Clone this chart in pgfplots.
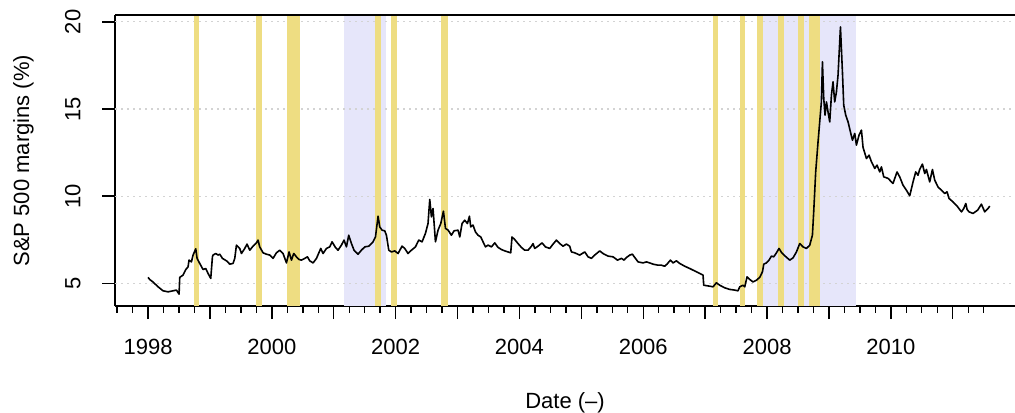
\documentclass[border=0pt]{standalone}
\usepackage{fontspec}
\setmainfont{Liberation Sans}
\usepackage{pgfplots}
\pgfplotsset{compat=1.18}
\definecolor{lgold}{RGB}{238,221,130}
\definecolor{lav}{RGB}{230,230,250}
\definecolor{gridgray}{RGB}{211,211,211}
\begin{document}
\begin{tikzpicture}
\begin{axis}[
  name=ax,
  at={(115bp,107bp)}, anchor=south west,
  scale only axis, width=900bp, height=290.8bp,
  xmin=1997.466, xmax=2012.006, ymin=3.698, ymax=20.384,
  axis x line*=bottom, axis y line*=left,
  axis line style={line width=1.4bp, -},
  tick align=outside,
  major tick length=13bp, minor tick length=6.5bp,
  every tick/.style={black, line width=1.4bp},
  xtick={1998,1999,2000,2001,2002,2003,2004,2005,2006,2007,2008,2009,2010,2011},
  xticklabels={1998,,2000,,2002,,2004,,2006,,2008,,2010,},
  minor xtick={1997.5,1997.75,1998.25,1998.5,1998.75,1999.25,1999.5,1999.75,2000.25,2000.5,2000.75,2001.25,2001.5,2001.75,2002.25,2002.5,2002.75,2003.25,2003.5,2003.75,2004.25,2004.5,2004.75,2005.25,2005.5,2005.75,2006.25,2006.5,2006.75,2007.25,2007.5,2007.75,2008.25,2008.5,2008.75,2009.25,2009.5,2009.75,2010.25,2010.5,2010.75,2011.25,2011.5},
  ytick={5,10,15,20},
  /pgf/number format/assume math mode=true,
  tick label style={font=\fontsize{22bp}{26bp}\selectfont},
  xticklabel shift=17bp,
  yticklabel shift=18bp,
  yticklabel style={rotate=90, anchor=south},
  every axis x label/.style={at={(rel axis cs:0.5,0)}, anchor=center, yshift=-97bp, font=\fontsize{22bp}{26bp}\selectfont},
  every axis y label/.style={at={(rel axis cs:0,0.5)}, shift={(-91.5bp,0)}, rotate=90, anchor=center, font=\fontsize{22bp}{26bp}\selectfont},
  xlabel={Date (–)}, ylabel={S\&P 500 margins (\%)},
  clip=true,
]
% recession shading
\addplot[fill=lav, draw=none] coordinates {(2001.16,3.698) (2001.84,3.698) (2001.84,20.384) (2001.16,20.384)} -- cycle;
\addplot[fill=lav, draw=none] coordinates {(2007.93,3.698) (2009.43,3.698) (2009.43,20.384) (2007.93,20.384)} -- cycle;
% grid
\addplot[gridgray, line width=1.2bp, dash pattern=on 1.5bp off 4.5bp] coordinates {(1997.466,5) (2012.006,5)};
\addplot[gridgray, line width=1.2bp, dash pattern=on 1.5bp off 4.5bp] coordinates {(1997.466,10) (2012.006,10)};
\addplot[gridgray, line width=1.2bp, dash pattern=on 1.5bp off 4.5bp] coordinates {(1997.466,15) (2012.006,15)};
\addplot[gridgray, line width=1.2bp, dash pattern=on 1.5bp off 4.5bp] coordinates {(1997.466,20) (2012.006,20)};
% event bands
\addplot[fill=lgold, draw=none] coordinates {(1998.74,3.698) (1998.83,3.698) (1998.83,20.384) (1998.74,20.384)} -- cycle;
\addplot[fill=lgold, draw=none] coordinates {(1999.74,3.698) (1999.84,3.698) (1999.84,20.384) (1999.74,20.384)} -- cycle;
\addplot[fill=lgold, draw=none] coordinates {(2000.24,3.698) (2000.45,3.698) (2000.45,20.384) (2000.24,20.384)} -- cycle;
\addplot[fill=lgold, draw=none] coordinates {(2001.66,3.698) (2001.76,3.698) (2001.76,20.384) (2001.66,20.384)} -- cycle;
\addplot[fill=lgold, draw=none] coordinates {(2001.92,3.698) (2002.02,3.698) (2002.02,20.384) (2001.92,20.384)} -- cycle;
\addplot[fill=lgold, draw=none] coordinates {(2002.74,3.698) (2002.84,3.698) (2002.84,20.384) (2002.74,20.384)} -- cycle;
\addplot[fill=lgold, draw=none] coordinates {(2007.13,3.698) (2007.20,3.698) (2007.20,20.384) (2007.13,20.384)} -- cycle;
\addplot[fill=lgold, draw=none] coordinates {(2007.56,3.698) (2007.65,3.698) (2007.65,20.384) (2007.56,20.384)} -- cycle;
\addplot[fill=lgold, draw=none] coordinates {(2007.83,3.698) (2007.93,3.698) (2007.93,20.384) (2007.83,20.384)} -- cycle;
\addplot[fill=lgold, draw=none] coordinates {(2008.17,3.698) (2008.27,3.698) (2008.27,20.384) (2008.17,20.384)} -- cycle;
\addplot[fill=lgold, draw=none] coordinates {(2008.50,3.698) (2008.59,3.698) (2008.59,20.384) (2008.50,20.384)} -- cycle;
\addplot[fill=lgold, draw=none] coordinates {(2008.67,3.698) (2008.85,3.698) (2008.85,20.384) (2008.67,20.384)} -- cycle;
% data
\addplot[black, line width=1.6bp, line join=round] coordinates {
(1998.000,5.34) (1998.027,5.22) (1998.081,5.07) (1998.162,4.80) (1998.242,4.57) (1998.323,4.51) (1998.404,4.57) (1998.459,4.61) (1998.501,4.38) (1998.512,5.34)
(1998.565,5.47) (1998.609,5.79) (1998.646,5.94) (1998.662,6.33) (1998.701,6.23) (1998.727,6.62) (1998.771,6.98) (1998.792,6.43) (1998.835,6.14) (1998.889,5.79)
(1998.932,5.85) (1998.969,5.57) (1999.013,5.28) (1999.040,6.52) (1999.050,6.62) (1999.094,6.71) (1999.131,6.62) (1999.158,6.67) (1999.202,6.43) (1999.267,6.29)
(1999.320,6.10) (1999.373,6.14) (1999.401,6.43) (1999.428,7.19) (1999.481,7.00) (1999.509,6.71) (1999.562,7.00) (1999.599,7.25) (1999.643,6.90) (1999.696,7.13)
(1999.751,7.32) (1999.777,7.48) (1999.804,7.09) (1999.858,6.75) (1999.913,6.67) (1999.966,6.62) (2000.019,6.43) (2000.074,6.75) (2000.128,6.90) (2000.181,6.71)
(2000.236,6.17) (2000.278,6.80) (2000.317,6.33) (2000.354,6.71) (2000.397,6.52) (2000.439,6.37) (2000.478,6.33) (2000.532,6.43) (2000.575,6.52) (2000.612,6.29)
(2000.666,6.17) (2000.721,6.43) (2000.790,7.00) (2000.827,6.71) (2000.882,7.00) (2000.935,7.09) (2000.973,7.38) (2001.027,7.06) (2001.069,6.90) (2001.124,7.19)
(2001.166,7.48) (2001.205,7.09) (2001.242,7.76) (2001.286,7.28) (2001.328,6.90) (2001.393,6.67) (2001.447,6.90) (2001.501,7.09) (2001.565,7.13) (2001.635,7.38)
(2001.674,7.66) (2001.716,8.85) (2001.743,8.24) (2001.780,8.05) (2001.824,8.01) (2001.851,7.76) (2001.889,6.90) (2001.932,6.80) (2001.985,6.86) (2002.039,6.71)
(2002.103,7.13) (2002.147,7.00) (2002.200,6.71) (2002.255,6.90) (2002.320,7.09) (2002.373,7.48) (2002.427,7.38) (2002.481,7.86) (2002.523,8.43) (2002.551,9.81)
(2002.578,8.81) (2002.604,9.29) (2002.643,7.38) (2002.685,8.05) (2002.729,8.43) (2002.772,9.14) (2002.805,8.15) (2002.847,8.05) (2002.901,7.76) (2002.943,8.01)
(2003.008,8.05) (2003.036,7.66) (2003.073,8.43) (2003.116,8.62) (2003.160,8.43) (2003.192,8.85) (2003.213,8.24) (2003.250,8.34) (2003.289,7.95) (2003.331,7.76)
(2003.375,7.66) (2003.412,7.38) (2003.451,7.09) (2003.493,7.19) (2003.548,7.09) (2003.601,7.32) (2003.654,7.06) (2003.709,6.94) (2003.762,6.86) (2003.816,6.80)
(2003.859,6.75) (2003.880,7.66) (2003.924,7.51) (2003.977,7.28) (2004.032,7.06) (2004.085,6.90) (2004.139,6.90) (2004.194,7.13) (2004.220,7.28) (2004.247,7.00)
(2004.300,7.13) (2004.365,7.32) (2004.420,7.09) (2004.489,7.00) (2004.543,7.25) (2004.598,7.48) (2004.651,7.28) (2004.704,7.13) (2004.759,7.25) (2004.812,7.13)
(2004.840,6.80) (2004.893,6.75) (2004.974,6.62) (2005.055,6.80) (2005.108,6.52) (2005.163,6.43) (2005.216,6.62) (2005.297,6.86) (2005.350,6.71) (2005.431,6.56)
(2005.512,6.52) (2005.583,6.33) (2005.648,6.43) (2005.690,6.33) (2005.729,6.48) (2005.782,6.62) (2005.825,6.67) (2005.863,6.48) (2005.916,6.23) (2005.997,6.17)
(2006.052,6.23) (2006.105,6.17) (2006.158,6.10) (2006.239,6.04) (2006.294,6.04) (2006.347,5.98) (2006.384,6.10) (2006.439,6.33) (2006.481,6.17) (2006.536,6.29)
(2006.589,6.14) (2006.670,5.98) (2006.751,5.85) (2006.831,5.71) (2006.912,5.57) (2006.966,5.47) (2006.977,4.89) (2007.047,4.85) (2007.128,4.80) (2007.182,5.03)
(2007.236,4.89) (2007.317,4.74) (2007.397,4.65) (2007.478,4.61) (2007.531,4.57) (2007.559,4.80) (2007.612,4.89) (2007.640,4.80) (2007.677,5.37) (2007.720,5.22)
(2007.774,5.08) (2007.829,5.18) (2007.882,5.34) (2007.926,5.66) (2007.947,6.10) (2007.990,6.17) (2008.032,6.33) (2008.071,6.56) (2008.108,6.52) (2008.152,6.75)
(2008.194,7.00) (2008.233,6.77) (2008.286,6.58) (2008.367,6.33) (2008.420,6.46) (2008.475,6.80) (2008.528,7.28) (2008.581,7.09) (2008.636,7.00) (2008.690,7.19)
(2008.733,7.76) (2008.754,9.10) (2008.786,11.39) (2008.824,13.12) (2008.851,14.26) (2008.878,15.41) (2008.895,17.71) (2008.916,15.61) (2008.937,14.65) (2008.960,15.41)
(2008.985,14.84) (2009.013,14.26) (2009.040,15.79) (2009.066,16.56) (2009.093,15.41) (2009.121,15.98) (2009.147,16.94) (2009.186,19.71) (2009.218,17.13) (2009.239,15.22)
(2009.271,14.65) (2009.309,14.26) (2009.347,13.69) (2009.380,13.21) (2009.417,13.60) (2009.444,12.93) (2009.486,13.50) (2009.525,13.79) (2009.551,12.80) (2009.606,12.16)
(2009.648,12.35) (2009.687,11.97) (2009.740,11.59) (2009.777,11.78) (2009.821,11.39) (2009.848,11.68) (2009.885,11.11) (2009.955,11.02) (2010.035,10.73) (2010.100,11.39)
(2010.143,11.11) (2010.197,10.63) (2010.252,10.34) (2010.305,10.02) (2010.359,10.82) (2010.402,11.39) (2010.439,11.20) (2010.466,11.53) (2010.510,11.84) (2010.548,11.30)
(2010.575,11.53) (2010.628,10.82) (2010.672,11.53) (2010.709,10.92) (2010.762,10.53) (2010.817,10.34) (2010.870,10.15) (2010.908,10.25) (2010.940,9.87) (2011.005,9.67)
(2011.070,9.43) (2011.141,9.10) (2011.178,9.29) (2011.211,9.58) (2011.232,9.24) (2011.263,9.10) (2011.328,9.01) (2011.403,9.20) (2011.463,9.54) (2011.517,9.10)
(2011.570,9.29) (2011.598,9.43)
};
\end{axis}
\draw[black, line width=1.4bp] (ax.north west) -- (ax.north east);
\pgfresetboundingbox
\useasboundingbox (0,0) rectangle (1015bp,413bp);
\end{tikzpicture}
\end{document}
